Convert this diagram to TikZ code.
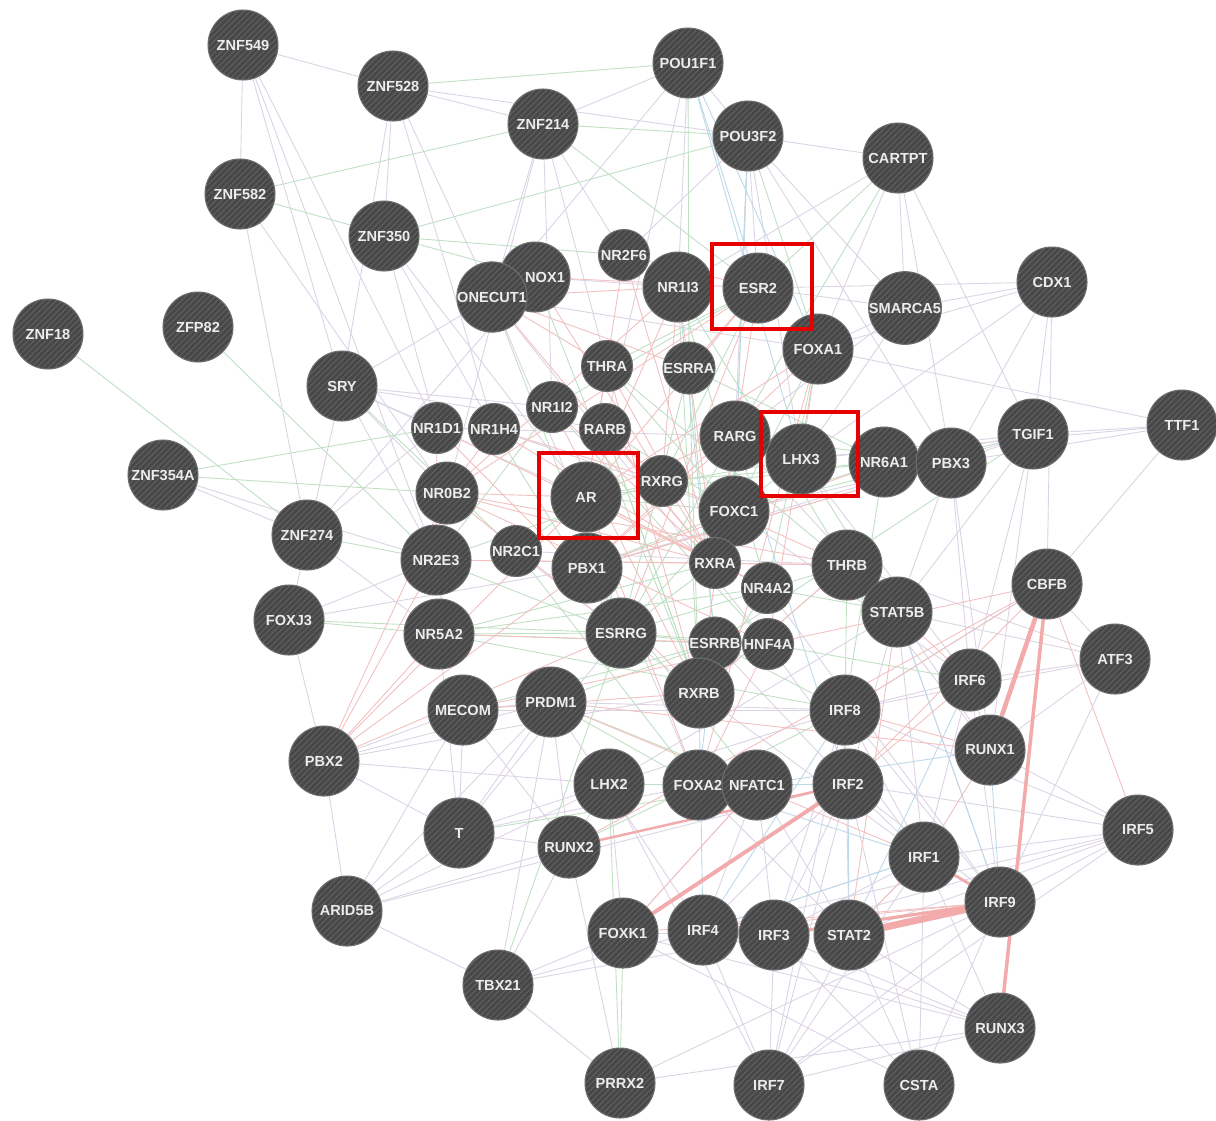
\documentclass[tikz,border=0pt]{standalone}
\usepackage{fontspec}
\setsansfont{Liberation Sans}
\usepackage{xcolor}
\definecolor{cNode}{HTML}{474747}
\definecolor{cHatch}{HTML}{5E5E5E}
\definecolor{cRim}{HTML}{6E6E6E}
\definecolor{cLabel}{HTML}{ECECEC}
\definecolor{cEdgeP}{HTML}{DCD3E5}
\definecolor{cEdgeG}{HTML}{BFE0C3}
\definecolor{cEdgeR}{HTML}{F3C0C0}
\definecolor{cEdgeB}{HTML}{BCD9E9}
\definecolor{cThick}{HTML}{F2AAAA}
\definecolor{cBox}{HTML}{E60000}
\usepackage{tikz}
\usetikzlibrary{calc,backgrounds,patterns.meta}
\tikzset{
  gene/.style={circle,draw=cRim,line width=0.6pt,preaction={fill=cNode},
    pattern={Lines[angle=45,distance=2.4pt,line width=0.7pt]},pattern color=cHatch,
    minimum size=14mm,inner sep=0pt,text=cLabel,
    font=\sffamily\bfseries\fontsize{8.3}{9}\selectfont},
  gene-m/.style={gene,minimum size=12.4mm},
  gene-s/.style={gene,minimum size=10.2mm},
  edge-p/.style={draw=cEdgeP,line width=0.5pt},
  edge-g/.style={draw=cEdgeG,line width=0.5pt},
  edge-r/.style={draw=cEdgeR,line width=0.5pt},
  edge-b/.style={draw=cEdgeB,line width=0.5pt},
  edge-thick/.style={draw=cThick,line width=2.6pt},
  hl-box/.style={draw=cBox,line width=2.3pt},
}
\begin{document}
\begin{tikzpicture}[x=0.02cm,y=-0.02cm]
  \useasboundingbox (0,0) rectangle (1216,1120);
  % top
  \node[gene] (znf549) at (243,45) {ZNF549};
  \node[gene] (znf528) at (393,86) {ZNF528};
  \node[gene] (pou1f1) at (688,63) {POU1F1};
  \node[gene] (znf214) at (543,124) {ZNF214};
  \node[gene] (pou3f2) at (748,136) {POU3F2};
  \node[gene] (cartpt) at (898,158) {CARTPT};
  \node[gene] (znf582) at (240,194) {ZNF582};
  \node[gene] (znf350) at (384,236) {ZNF350};
  \node[gene-s] (nr2f6) at (624,255) {NR2F6};
  \node[gene] (nox1) at (535,277) {\hspace*{4mm}NOX1};
  \node[gene] (onecut1) at (492,297) {ONECUT1};
  \node[gene] (nr1i3) at (678,287) {NR1I3};
  \node[gene] (esr2) at (758,288) {ESR2};
  \node[gene] (cdx1) at (1052,282) {CDX1};
  \node[gene] (smarca5) at (905,308) {SMARCA5};
  \node[gene] (foxa1) at (818,349) {FOXA1};
  \node[gene] (znf18) at (48,334) {ZNF18};
  \node[gene] (zfp82) at (198,327) {ZFP82};
  \node[gene] (sry) at (342,386) {SRY};
  % nuclear receptor core
  \node[gene-s] (thra) at (607,366) {THRA};
  \node[gene-s] (esrra) at (689,368) {ESRRA};
  \node[gene-s] (nr1i2) at (552,407) {NR1I2};
  \node[gene-s] (nr1d1) at (437,428) {NR1D1};
  \node[gene-s] (nr1h4) at (494,429) {NR1H4};
  \node[gene-s] (rarb) at (605,429) {RARB};
  \node[gene] (rarg) at (735,436) {RARG};
  \node[gene] (lhx3) at (801,459) {LHX3};
  \node[gene] (nr6a1) at (884,462) {NR6A1};
  \node[gene] (pbx3) at (951,463) {PBX3};
  \node[gene] (tgif1) at (1033,434) {TGIF1};
  \node[gene] (ttf1) at (1182,425) {TTF1};
  \node[gene] (znf354a) at (163,475) {ZNF354A};
  \node[gene-m] (nr0b2) at (447,493) {NR0B2};
  \node[gene] (ar) at (586,497) {AR};
  \node[gene-s] (rxrg) at (662,481) {RXRG};
  \node[gene] (foxc1) at (734,511) {FOXC1};
  \node[gene] (znf274) at (307,535) {ZNF274};
  \node[gene] (nr2e3) at (436,560) {NR2E3};
  \node[gene-s] (nr2c1) at (516,551) {NR2C1};
  \node[gene] (pbx1) at (587,568) {PBX1};
  \node[gene-s] (rxra) at (715,563) {RXRA};
  \node[gene-s] (nr4a2) at (767,588) {NR4A2};
  \node[gene] (thrb) at (847,565) {THRB};
  \node[gene] (stat5b) at (897,612) {STAT5B};
  \node[gene] (cbfb) at (1047,584) {CBFB};
  \node[gene] (foxj3) at (289,620) {FOXJ3};
  \node[gene] (nr5a2) at (439,634) {NR5A2};
  \node[gene] (esrrg) at (621,633) {ESRRG};
  \node[gene-s] (esrrb) at (715,643) {ESRRB};
  \node[gene-s] (hnf4a) at (768,644) {HNF4A};
  \node[gene] (atf3) at (1115,659) {ATF3};
  \node[gene-m] (irf6) at (970,680) {IRF6};
  \node[gene] (rxrb) at (699,693) {RXRB};
  \node[gene] (mecom) at (463,710) {MECOM};
  \node[gene] (prdm1) at (551,702) {PRDM1};
  \node[gene] (irf8) at (845,710) {IRF8};
  % bottom
  \node[gene] (pbx2) at (324,761) {PBX2};
  \node[gene] (runx1) at (990,750) {RUNX1};
  \node[gene] (lhx2) at (609,784) {LHX2};
  \node[gene] (foxa2) at (698,785) {FOXA2};
  \node[gene] (nfatc1) at (757,785) {NFATC1};
  \node[gene] (irf2) at (848,784) {IRF2};
  \node[gene] (irf5) at (1138,830) {IRF5};
  \node[gene] (t) at (459,833) {T};
  \node[gene-m] (runx2) at (569,847) {RUNX2};
  \node[gene] (irf1) at (924,857) {IRF1};
  \node[gene] (irf9) at (1000,902) {IRF9};
  \node[gene] (arid5b) at (347,911) {ARID5B};
  \node[gene] (foxk1) at (623,933) {FOXK1};
  \node[gene] (irf4) at (703,930) {IRF4};
  \node[gene] (irf3) at (774,935) {IRF3};
  \node[gene] (stat2) at (849,935) {STAT2};
  \node[gene] (tbx21) at (498,985) {TBX21};
  \node[gene] (runx3) at (1000,1028) {RUNX3};
  \node[gene] (prrx2) at (620,1083) {PRRX2};
  \node[gene] (irf7) at (769,1085) {IRF7};
  \node[gene] (csta) at (919,1085) {CSTA};

  \begin{scope}[on background layer]
    \fill[white] (0,0) rectangle (1216,1120);
    \foreach \a/\b in {znf549/znf528,znf549/znf582,znf549/sry,znf549/nr1d1,znf549/nr2e3,
      znf528/znf350,znf528/znf214,znf528/nr1h4,znf528/onecut1,znf528/sry,
      znf582/nr0b2,znf582/znf274,znf350/nr1d1,znf350/ar,znf350/nr1h4,
      sry/nr1d1,sry/nr0b2,sry/ar,sry/nr2e3,sry/onecut1,sry/rarb,sry/nr1i2,
      znf354a/znf274,znf354a/nr2e3,znf274/nr5a2,znf274/nox1,znf274/nr1d1,
      foxj3/pbx2,foxj3/nr2e3,foxj3/sry,foxj3/pbx1,
      pbx2/arid5b,pbx2/mecom,pbx2/t,pbx2/prdm1,pbx2/lhx2,pbx2/rxrb,
      arid5b/t,arid5b/tbx21,arid5b/runx2,arid5b/lhx2,arid5b/irf2,arid5b/mecom,arid5b/prdm1,
      t/mecom,t/lhx2,t/prdm1,t/runx2,t/foxa2,t/nr5a2,t/esrrg,
      tbx21/prrx2,tbx21/foxk1,tbx21/irf4,tbx21/irf3,tbx21/runx2,tbx21/prdm1,
      prrx2/runx3,prrx2/irf9,prrx2/runx2,
      irf7/irf9,irf7/irf3,irf7/stat2,irf7/irf1,irf7/runx3,irf7/irf4,irf7/irf5,irf7/irf2,irf7/irf8,
      csta/irf9,csta/stat2,csta/irf1,csta/irf3,csta/irf2,csta/foxk1,
      runx3/irf4,runx3/stat2,runx3/foxk1,runx3/irf3,runx3/irf1,
      irf5/irf1,irf5/irf9,irf5/runx1,irf5/irf3,irf5/stat2,irf5/irf8,irf5/irf2,irf5/irf4,
      atf3/cbfb,atf3/irf6,atf3/runx1,atf3/stat5b,atf3/irf9,atf3/irf8,atf3/thrb,
      ttf1/tgif1,ttf1/cbfb,ttf1/pbx3,ttf1/foxa1,ttf1/lhx3,
      cdx1/tgif1,cdx1/smarca5,cdx1/foxa1,cdx1/cbfb,cdx1/lhx3,cdx1/esr2,cdx1/pbx3,
      cartpt/smarca5,cartpt/foxa1,cartpt/tgif1,cartpt/pou3f2,cartpt/nr1i3,cartpt/pbx3,
      pou1f1/pou3f2,pou1f1/nr1i3,pou1f1/onecut1,pou1f1/znf214,pou1f1/rarb,
      pou3f2/esr2,pou3f2/lhx3,pou3f2/rarg,pou3f2/nr2f6,pou3f2/znf528,pou3f2/smarca5,pou3f2/pbx3,
      znf214/nr1i2,znf214/onecut1,znf214/thra,znf214/nr0b2,znf214/nr2f6,
      tgif1/pbx3,tgif1/pbx1,tgif1/stat5b,tgif1/irf6,tgif1/runx1,tgif1/lhx3,tgif1/nr6a1,
      pbx3/pbx1,pbx3/irf6,pbx3/stat5b,pbx3/runx1,pbx3/foxc1,
      smarca5/esr2,smarca5/foxa1,smarca5/lhx3,smarca5/rarg,
      stat5b/irf1,stat5b/irf2,stat5b/irf9,stat5b/runx1,
      irf6/irf9,irf6/irf1,irf6/irf8,irf6/runx1,
      irf8/irf1,irf8/irf9,irf8/irf3,irf8/stat2,
      irf2/irf1,irf2/irf3,irf2/irf9,irf2/irf4,irf1/irf3,irf1/irf4,irf1/stat2,
      irf4/irf3,nfatc1/irf4,nfatc1/irf3,nfatc1/stat2,nfatc1/foxk1,foxk1/irf3,
      mecom/prdm1,mecom/runx2,prdm1/irf4,prdm1/runx2,lhx2/runx2,lhx2/foxk1,lhx2/irf7,
      onecut1/foxa1,onecut1/foxa2,onecut1/hnf4a,nox1/nr1i3,
      nr1d1/nr1h4,nr1d1/rarg,nr1h4/foxc1,nr2c1/rxrb,nr2c1/thrb,mecom/irf8,
      prdm1/irf8,lhx2/irf8,lhx2/stat5b,foxa2/stat2,rxrb/irf1,esrrb/irf2,
      hnf4a/irf1,nr4a2/irf9,thrb/runx1,foxc1/irf6,rarg/stat5b,lhx3/irf6}
      \draw[edge-p] (\a) -- (\b);
    \foreach \a/\b in {znf18/znf274,zfp82/nr2e3,znf354a/nr1d1,znf354a/nr0b2,znf582/znf214,
      znf582/nox1,znf528/pou1f1,znf350/pou3f2,znf350/nr2f6,znf214/pou3f2,znf214/esr2,
      foxj3/nr5a2,foxj3/esrrg,znf274/nr2e3,sry/nr2c1,
      cartpt/esr2,cartpt/rarg,pou3f2/foxa1,pou3f2/foxc1,pou1f1/esrra,
      esrrg/pbx1,esrrg/rxra,esrrg/nr2e3,esrrg/foxc1,esrrg/esrrb,esrrg/nr5a2,esrrg/thrb,
      esrrg/hnf4a,esrrg/rarg,lhx2/foxa2,lhx2/prrx2,prdm1/nfatc1,prdm1/foxa2,prdm1/esrrb,
      foxk1/prrx2,foxk1/irf2,tbx21/esrrg,runx2/foxa2,t/nfatc1,
      rxrb/nr4a2,rxrb/thrb,rxrb/rarb,rxrb/esrra,rxrb/nr1i3,
      foxc1/lhx3,foxc1/rarg,foxc1/nr6a1,foxc1/thra,foxc1/pbx1,
      nr2e3/nr1i2,nr2e3/rxrg,nr5a2/rxra,nr5a2/esrrb,nr5a2/nr4a2,
      thrb/irf8,thrb/stat5b,stat5b/nr4a2,irf6/hnf4a,irf8/esrrb,irf8/foxa2,
      nr6a1/rxrg,nr6a1/esrra,nr6a1/ar,pbx3/rarg,tgif1/foxc1,tgif1/esrrb,
      esr2/thra,esr2/nr1i2,esr2/rxrg,foxa1/lhx3,foxa1/foxc1,foxa1/nr4a2,
      ar/nr2c1,ar/pbx1,ar/esrrg,ar/foxc1,ar/lhx3,nr1i3/thrb,nr1i3/nr4a2,
      rarb/rxrb,rarb/foxc1,thra/thrb,esrra/esrrg,esrra/esrrb,
      nr1h4/esrrg,nr1i2/hnf4a,nr2c1/foxa2,pbx1/nfatc1,mecom/esrrb,nr5a2/irf8,
      onecut1/esrrg,nox1/rxrb,lhx3/stat5b,nr6a1/irf8}
      \draw[edge-g] (\a) -- (\b);
    \foreach \a/\b in {pou1f1/esr2,pou1f1/foxa1,pou1f1/lhx3,pou3f2/foxc1,runx1/irf9,
      runx3/cbfb,rxrb/irf4,irf8/irf4,irf2/stat2,nfatc1/irf2,nfatc1/runx1,foxa2/irf1,
      esrrb/foxa2,cbfb/irf8,stat5b/irf9,irf6/stat2,irf1/irf4,nr1i3/esrrb,rarg/irf2}
      \draw[edge-b] (\a) -- (\b);
    \foreach \a/\b in {pbx2/nr2e3,pbx2/nr0b2,pbx2/pbx1,pbx2/ar,pbx2/nr5a2,pbx2/esrrg,
      ar/esr2,ar/rxra,ar/nr0b2,ar/foxa1,ar/nr1i3,ar/nr2f6,ar/thra,ar/rarg,ar/nr4a2,ar/foxa2,
      nr1i3/rxra,nr1i2/rxra,rxra/rarb,rxra/rarg,rxra/thra,rxra/thrb,rxra/nr1h4,rxra/nr4a2,
      rxra/nr1d1,rxra/nr2f6,rxrb/rarg,rxrb/thrb,rxrb/nr1i2,rxrb/thra,rxrg/thrb,rxrg/rarb,
      rxrg/nr1i3,rxrg/nr1h4,esr2/esrra,esr2/nr2f6,esr2/rxra,esr2/nr0b2,esr2/esrrg,
      nr0b2/nr5a2,nr0b2/hnf4a,nr0b2/esrrg,nr0b2/nr1i3,nr0b2/rxra,nr0b2/thrb,
      nr2e3/nr1d1,nr2e3/rxra,nr2e3/thrb,onecut1/nr1i3,onecut1/rxra,onecut1/thra,
      onecut1/esrra,nox1/esr2,pbx1/pbx3,pbx1/foxa1,pbx1/nr6a1,pbx1/rarg,
      hnf4a/foxa2,foxa1/foxa2,foxa1/hnf4a,runx2/cbfb,runx1/irf8,irf8/cbfb,irf2/cbfb,
      irf2/irf6,irf1/runx1,irf5/cbfb,mecom/rxrb,prdm1/irf1,prdm1/runx1,
      stat5b/stat2,stat5b/irf6,foxk1/irf9,foxk1/nfatc1,irf1/stat2,irf9/irf3,irf4/irf9,
      nox1/rxra,nr1d1/rxrb,nr1h4/nr0b2,nr5a2/hnf4a,mecom/cbfb}
      \draw[edge-r] (\a) -- (\b);
    % thick links
    \draw[edge-thick,line width=4pt] (stat2) -- (irf9);
    \draw[edge-thick,line width=1.8pt] (irf3) -- (irf9);
    \draw[edge-thick,line width=1.6pt] (irf1) -- (irf9);
    \draw[edge-thick] (runx1) -- (cbfb);
    \draw[edge-thick,line width=2pt] (runx3) -- (cbfb);
    \draw[edge-thick,line width=2.2pt] (foxk1) -- (irf2);
    \draw[edge-thick,line width=1.4pt] (runx2) -- (irf2);
  \end{scope}

  % highlighted genes
  \draw[hl-box] ($(esr2)+(-46,-44)$) rectangle ($(esr2)+(54,41)$);
  \draw[hl-box] ($(lhx3)+(-40,-47)$) rectangle ($(lhx3)+(57,37)$);
  \draw[hl-box] ($(ar)+(-47,-44)$) rectangle ($(ar)+(52,41)$);
\end{tikzpicture}
\end{document}
